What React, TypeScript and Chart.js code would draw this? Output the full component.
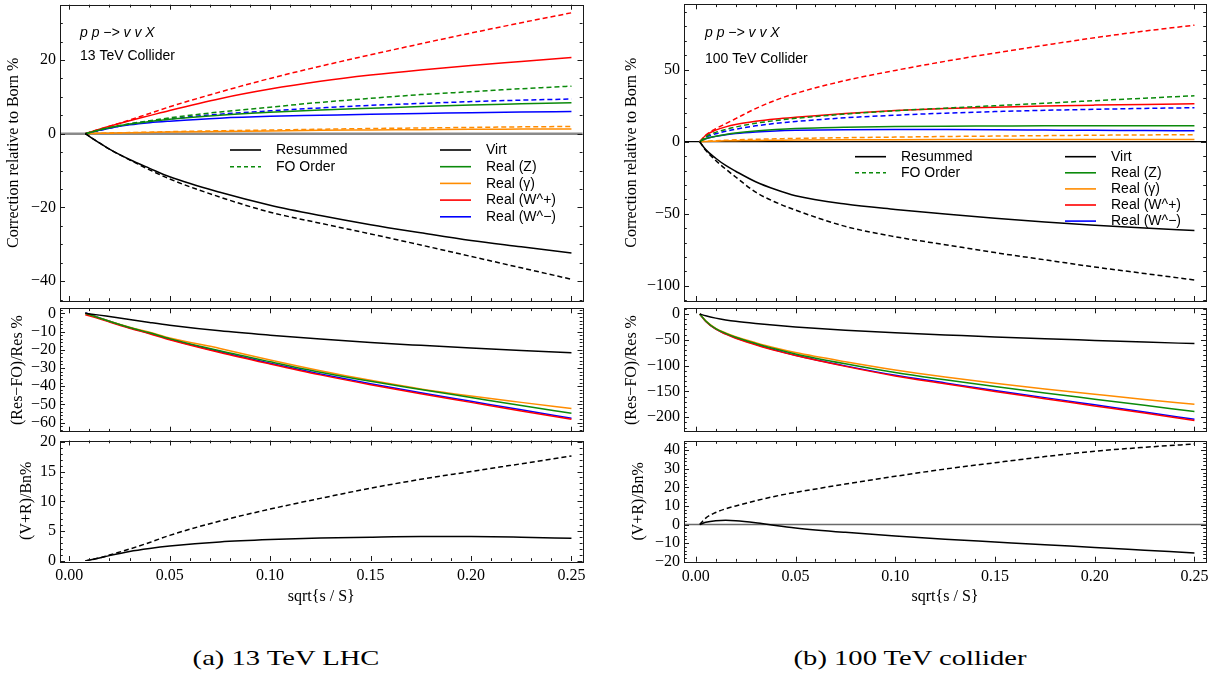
import React, { useEffect, useRef } from "react";
import { Chart, registerables } from "chart.js";

Chart.register(...registerables);

// ---------------- data: 13 TeV LHC (left column) ----------------
const X_13 = [0.008, 0.015, 0.02, 0.03, 0.04, 0.05, 0.075, 0.1, 0.125, 0.15, 0.175, 0.2, 0.225, 0.25];

const VIRT_RES_13 = [0, -2.5, -4.2, -7.0, -9.4, -11.7, -15.9, -19.4, -22.2, -24.7, -26.9, -29.0, -30.7, -32.4];
const VIRT_FO_13 = [0, -2.5, -4.2, -7.1, -9.8, -12.3, -17.2, -21.3, -24.3, -27.2, -30.2, -33.3, -36.4, -39.5];
const Z_RES_13 = [0, 1.0, 1.6, 2.6, 3.3, 3.9, 5.0, 5.8, 6.4, 6.9, 7.4, 7.8, 8.1, 8.4];
const Z_FO_13 = [0, 1.0, 1.6, 2.7, 3.5, 4.3, 5.9, 7.2, 8.5, 9.6, 10.6, 11.4, 12.2, 12.9];
const A_RES_13 = [0, 0.1, 0.15, 0.25, 0.35, 0.45, 0.6, 0.75, 0.9, 1.0, 1.1, 1.2, 1.25, 1.3];
const A_FO_13 = [0, 0.1, 0.2, 0.3, 0.42, 0.55, 0.8, 1.0, 1.2, 1.4, 1.55, 1.7, 1.85, 1.95];
const WP_RES_13 = [0, 1.2, 2.0, 3.5, 4.9, 6.3, 9.5, 12.1, 14.2, 15.9, 17.3, 18.5, 19.6, 20.7];
const WP_FO_13 = [0, 1.2, 2.0, 3.7, 5.5, 7.3, 11.3, 15.0, 18.3, 21.4, 24.4, 27.3, 30.1, 32.8];
const WM_RES_13 = [0, 0.9, 1.5, 2.4, 3.0, 3.4, 4.2, 4.7, 5.0, 5.3, 5.5, 5.7, 5.9, 6.0];
const WM_FO_13 = [0, 0.9, 1.5, 2.6, 3.4, 4.0, 5.3, 6.2, 7.0, 7.7, 8.2, 8.7, 9.1, 9.4];

const DV_13 = [0, -1.0, -1.8, -3.4, -5.0, -6.5, -9.6, -12.0, -14.1, -16.0, -17.6, -19.1, -20.4, -21.6];
const DZ_13 = [0, -2.6, -4.4, -7.8, -10.7, -13.9, -20.6, -26.6, -32.3, -37.3, -41.8, -46.2, -50.6, -54.9];
const DA_13 = [0, -2.5, -4.3, -7.6, -10.4, -13.5, -19.3, -25.6, -31.5, -36.8, -41.5, -45.4, -48.9, -52.3];
const DWP_13 = [-0.8, -3.0, -4.8, -8.2, -11.2, -14.5, -21.5, -27.8, -33.8, -39.2, -44.2, -48.9, -53.6, -58.2];
const DWM_13 = [0.3, -2.6, -4.4, -7.9, -10.9, -14.2, -21.1, -27.4, -33.3, -38.7, -43.6, -48.3, -53.0, -57.6];

const VR_FO_13 = [0, 0.5, 1.0, 2.0, 3.1, 4.3, 6.7, 8.7, 10.5, 12.2, 13.7, 15.0, 16.3, 17.6];
const VR_RES_13 = [0, 0.5, 0.9, 1.6, 2.1, 2.5, 3.2, 3.6, 3.85, 4.0, 4.1, 4.1, 4.0, 3.8];

// ---------------- data: 100 TeV collider (right column) ----------------
const X_100 = [0.002, 0.005, 0.01, 0.015, 0.02, 0.03, 0.04, 0.05, 0.075, 0.1, 0.125, 0.15, 0.175, 0.2, 0.225, 0.25];

const VIRT_RES_100 = [0, -5.5, -11.5, -16.5, -20.5, -27.8, -33.2, -37.5, -43.3, -47.0, -50.2, -53.2, -55.8, -58.0, -60.0, -61.7];
const VIRT_FO_100 = [0, -6, -13, -19, -24.5, -35, -42, -47.5, -58.8, -66, -71.5, -77, -82, -87, -91.5, -96];
const Z_RES_100 = [0, 2.2, 3.8, 5.0, 6.0, 7.4, 8.4, 9.1, 10.0, 10.5, 10.8, 10.9, 11.0, 11.0, 11.1, 11.1];
const Z_FO_100 = [0, 3.5, 6.5, 8.5, 10.2, 12.8, 14.7, 16.2, 19.2, 21.5, 23.3, 25.0, 26.7, 28.5, 30.2, 31.9];
const A_RES_100 = [0, 0.2, 0.4, 0.6, 0.7, 0.9, 1.0, 1.1, 1.3, 1.4, 1.45, 1.5, 1.55, 1.6, 1.6, 1.6];
const A_FO_100 = [0, 0.3, 0.7, 1.0, 1.3, 1.7, 2.0, 2.3, 2.8, 3.2, 3.6, 3.9, 4.2, 4.5, 4.7, 4.9];
const WP_RES_100 = [0, 4.5, 8.0, 10.3, 12.0, 14.2, 15.8, 17.0, 19.6, 21.6, 23.0, 24.0, 24.8, 25.4, 25.9, 26.3];
const WP_FO_100 = [0, 4.5, 9.0, 12.5, 16.0, 23.0, 28.8, 33.5, 42.5, 49.5, 55.8, 61.6, 67.0, 72.2, 76.8, 80.9];
const WM_RES_100 = [0, 2.1, 3.7, 4.8, 5.7, 6.8, 7.5, 7.9, 8.3, 8.4, 8.4, 8.3, 8.1, 7.9, 7.8, 7.6];
const WM_FO_100 = [0, 3.0, 5.5, 7.3, 8.7, 11.0, 12.7, 14.0, 16.6, 18.4, 19.8, 20.9, 21.8, 22.5, 23.1, 23.6];

const DV_100 = [0, -3.5, -8, -11.5, -14.3, -18.5, -22, -25, -31.5, -36.5, -40.5, -44.5, -48, -51.2, -54.4, -57.4];
const DZ_100 = [0, -13.5, -28.5, -37.5, -45, -57, -68, -77.4, -96.5, -113.5, -127.5, -140.6, -153, -165, -177, -189];
const DA_100 = [0, -13, -27.7, -36.5, -43.9, -55.5, -66, -74.8, -92.5, -108.4, -122, -134.2, -145.3, -155.5, -165.5, -174.8];
const DWP_100 = [0, -14.5, -29.5, -39, -47, -59.5, -71, -80.6, -101.5, -120, -135, -150, -164, -178, -192, -206.5];
const DWM_100 = [0, -14, -29, -38.5, -46, -58.5, -70, -80, -100.5, -118.7, -133.5, -148.4, -162, -176, -190, -203.9];

const VR_FO_100 = [0, 3.5, 6.5, 8.5, 10.0, 12.8, 15.3, 17.3, 21.8, 26.0, 29.9, 33.3, 36.6, 39.5, 41.6, 43.4];
const VR_RES_100 = [0, 1.2, 2.1, 2.3, 2.1, 1.0, -0.5, -1.8, -4.2, -6.2, -7.9, -9.4, -10.9, -12.3, -13.8, -15.3];

// ---------------- ticks ----------------
const X_TICKS = [0, 0.05, 0.1, 0.15, 0.2, 0.25];
const X_MINOR = 0.01;
const Y_TICKS_TOP_13 = [-40, -20, 0, 20];
const Y_TICKS_MID_13 = [-60, -50, -40, -30, -20, -10, 0];
const Y_TICKS_BOT_13 = [0, 5, 10, 15, 20];
const Y_TICKS_TOP_100 = [-100, -50, 0, 50];
const Y_TICKS_MID_100 = [-200, -150, -100, -50, 0];
const Y_TICKS_BOT_100 = [-20, -10, 0, 10, 20, 30, 40];

// ---------------- styles ----------------
const SERIF = '"Liberation Serif", "Times New Roman", serif';
const SANS = '"Liberation Sans", Arial, sans-serif';
const BLACK = "#000000";
const GREEN = "#0b8a0b";
const ORANGE = "#ff8c00";
const RED = "#ff0000";
const BLUE = "#0000ff";
const LW = 1.5;
const DASH = [5, 3];

const LEGEND_ITEMS = [
  { text: "Resummed", color: BLACK, dash: false, col: 0, row: 0 },
  { text: "FO Order", color: GREEN, dash: true, col: 0, row: 1 },
  { text: "Virt", color: BLACK, dash: false, col: 1, row: 0 },
  { text: "Real (Z)", color: GREEN, dash: false, col: 1, row: 1 },
  { text: "Real (\u03b3)", color: ORANGE, dash: false, col: 1, row: 2 },
  { text: "Real (W^+)", color: RED, dash: false, col: 1, row: 3 },
  { text: "Real (W^\u2212)", color: BLUE, dash: false, col: 1, row: 4 },
];

function line(xs: number[], ys: number[], color: string, dashed: boolean, label: string) {
  return {
    label,
    data: xs.map((x, i) => ({ x, y: ys[i] })),
    borderColor: color,
    backgroundColor: color,
    borderWidth: LW,
    borderDash: dashed ? DASH : [],
    pointRadius: 0,
    cubicInterpolationMode: "monotone",
    fill: false,
  };
}

const fmtY = (v: number) => (v < 0 ? "\u2212" + Math.abs(v) : String(v));

const framePlugin = {
  id: "frame",
  beforeDatasetsDraw(chart: any, _a: any, o: any) {
    if (!o || !o.zero) return;
    const { ctx, chartArea } = chart;
    const y = chart.scales.y.getPixelForValue(0);
    ctx.save();
    ctx.strokeStyle = o.zero.color;
    ctx.lineWidth = o.zero.width;
    ctx.beginPath();
    ctx.moveTo(chartArea.left, y);
    ctx.lineTo(chartArea.right, y);
    ctx.stroke();
    ctx.restore();
  },
  afterDatasetsDraw(chart: any, _a: any, o: any) {
    const { ctx, chartArea } = chart;
    const { left, right, top, bottom } = chartArea;
    const xs = chart.scales.x;
    const ys = chart.scales.y;
    ctx.save();
    ctx.strokeStyle = "#1a1a1a";
    ctx.lineWidth = 1;
    const seg = (x1: number, y1: number, x2: number, y2: number) => {
      ctx.beginPath();
      ctx.moveTo(x1, y1);
      ctx.lineTo(x2, y2);
      ctx.stroke();
    };
    const isMajor = (v: number, arr: number[]) => arr.some((t) => Math.abs(t - v) < 1e-9);
    const xStart = Math.ceil(xs.min / X_MINOR - 1e-9);
    for (let k = xStart; k * X_MINOR <= xs.max + 1e-12; k++) {
      const v = +(k * X_MINOR).toFixed(6);
      const len = isMajor(v, X_TICKS) ? 5 : 2.8;
      const px = Math.round(xs.getPixelForValue(v)) + 0.5;
      seg(px, bottom, px, bottom - len);
      seg(px, top, px, top + len);
    }
    const step = o.yMinor;
    const yStart = Math.ceil(ys.min / step - 1e-9);
    for (let k = yStart; k * step <= ys.max + 1e-9; k++) {
      const v = +(k * step).toFixed(6);
      const len = isMajor(v, o.yTicks) ? 5 : 2.8;
      const py = Math.round(ys.getPixelForValue(v)) + 0.5;
      seg(left, py, left + len, py);
      seg(right, py, right - len, py);
    }
    ctx.strokeRect(Math.round(left) + 0.5, Math.round(top) + 0.5, Math.round(right - left), Math.round(bottom - top));

    if (o.legend) {
      const L = o.legend;
      ctx.font = `14px ${SANS}`;
      ctx.textBaseline = "middle";
      ctx.fillStyle = "#000";
      LEGEND_ITEMS.forEach((it) => {
        const x0 = left + (it.col === 0 ? L.x0 : L.x1);
        const y = top + L.y0 + it.row * L.dy;
        ctx.save();
        ctx.strokeStyle = it.color;
        ctx.lineWidth = 1.6;
        ctx.setLineDash(it.dash ? [4, 3] : []);
        seg(x0, y, x0 + 31, y);
        ctx.restore();
        ctx.fillText(it.text, x0 + 46, y + 0.5);
      });
    }
    if (o.notes) {
      ctx.fillStyle = "#000";
      ctx.textBaseline = "middle";
      o.notes.forEach((n: any) => {
        ctx.font = `${n.italic ? "italic " : ""}14px ${SANS}`;
        ctx.fillText(n.text, left + n.x, top + n.y);
      });
    }
    ctx.restore();
  },
};

type Spec = {
  left: number; top: number; width: number; height: number;
  pad: { left: number; right: number; top: number; bottom: number };
  yWidth: number; xMin: number; xMax: number; yMin: number; yMax: number;
  yTicks: number[]; yMinor: number; yTitle: string; yTitlePad: number;
  showX: boolean; datasets: any[]; zero?: any; legend?: any; notes?: any[];
};

const L_COL = { left: 0, width: 593, yWidth: 60, xMin: -0.0046, xMax: 0.2555 };
const R_COL = { left: 615, width: 601, yWidth: 69, xMin: -0.0059, xMax: 0.2558 };

const SPECS: Spec[] = [
  {
    ...L_COL, top: 0, height: 305, pad: { left: 0, right: 10.5, top: 4.7, bottom: 4 },
    yMin: -45.4, yMax: 35.0, yTicks: Y_TICKS_TOP_13, yMinor: 5,
    yTitle: "Correction relative to Born %", yTitlePad: 3.9, showX: false,
    zero: { color: "#8a8a8a", width: 2.5 },
    legend: { x0: 170, x1: 380, y0: 145.3, dy: 16.7 },
    notes: [
      { text: "p p \u2212> v v X", x: 20, y: 28.3, italic: true },
      { text: "13 TeV Collider", x: 20, y: 51.3 },
    ],
    datasets: [
      line(X_13, VIRT_RES_13, BLACK, false, "Virt Res"),
      line(X_13, VIRT_FO_13, BLACK, true, "Virt FO"),
      line(X_13, Z_RES_13, GREEN, false, "Real (Z) Res"),
      line(X_13, Z_FO_13, GREEN, true, "Real (Z) FO"),
      line(X_13, A_RES_13, ORANGE, false, "Real (\u03b3) Res"),
      line(X_13, A_FO_13, ORANGE, true, "Real (\u03b3) FO"),
      line(X_13, WP_RES_13, RED, false, "Real (W^+) Res"),
      line(X_13, WP_FO_13, RED, true, "Real (W^+) FO"),
      line(X_13, WM_RES_13, BLUE, false, "Real (W^-) Res"),
      line(X_13, WM_FO_13, BLUE, true, "Real (W^-) FO"),
    ],
  },
  {
    ...L_COL, top: 303, height: 133, pad: { left: 0, right: 10.5, top: 5.3, bottom: 4.3 },
    yMin: -65, yMax: 2.75, yTicks: Y_TICKS_MID_13, yMinor: 2,
    yTitle: "(Res\u2212FO)/Res %", yTitlePad: 7.9, showX: false,
    datasets: [
      line(X_13, DV_13, BLACK, false, "Virt"),
      line(X_13, DZ_13, GREEN, false, "Real (Z)"),
      line(X_13, DA_13, ORANGE, false, "Real (\u03b3)"),
      line(X_13, DWP_13, RED, false, "Real (W^+)"),
      line(X_13, DWM_13, BLUE, false, "Real (W^-)"),
    ],
  },
  {
    ...L_COL, top: 432, height: 179, pad: { left: 0, right: 10.5, top: 8.5, bottom: 5 },
    yMin: 0, yMax: 20.2, yTicks: Y_TICKS_BOT_13, yMinor: 1,
    yTitle: "(V+R)/Bn%", yTitlePad: 17.4, showX: true,
    datasets: [
      line(X_13, VR_RES_13, BLACK, false, "Resummed"),
      line(X_13, VR_FO_13, BLACK, true, "FO Order"),
    ],
  },
  {
    ...R_COL, top: 0, height: 305, pad: { left: 0, right: 10, top: 4.3, bottom: 4 },
    yMin: -110.6, yMax: 95.4, yTicks: Y_TICKS_TOP_100, yMinor: 10,
    yTitle: "Correction relative to Born %", yTitlePad: 7, showX: false,
    zero: { color: "#000", width: 1.2 },
    legend: { x0: 171, x1: 381, y0: 152.4, dy: 16.1 },
    notes: [
      { text: "p p \u2212> v v X", x: 21, y: 29.2, italic: true },
      { text: "100 TeV Collider", x: 21, y: 55.2 },
    ],
    datasets: [
      line(X_100, VIRT_RES_100, BLACK, false, "Virt Res"),
      line(X_100, VIRT_FO_100, BLACK, true, "Virt FO"),
      line(X_100, Z_RES_100, GREEN, false, "Real (Z) Res"),
      line(X_100, Z_FO_100, GREEN, true, "Real (Z) FO"),
      line(X_100, A_RES_100, ORANGE, false, "Real (\u03b3) Res"),
      line(X_100, A_FO_100, ORANGE, true, "Real (\u03b3) FO"),
      line(X_100, WP_RES_100, RED, false, "Real (W^+) Res"),
      line(X_100, WP_FO_100, RED, true, "Real (W^+) FO"),
      line(X_100, WM_RES_100, BLUE, false, "Real (W^-) Res"),
      line(X_100, WM_FO_100, BLUE, true, "Real (W^-) FO"),
    ],
  },
  {
    ...R_COL, top: 303, height: 133, pad: { left: 0, right: 10, top: 5.3, bottom: 4.3 },
    yMin: -228, yMax: 11, yTicks: Y_TICKS_MID_100, yMinor: 10,
    yTitle: "(Res\u2212FO)/Res %", yTitlePad: 7, showX: false,
    datasets: [
      line(X_100, DV_100, BLACK, false, "Virt"),
      line(X_100, DZ_100, GREEN, false, "Real (Z)"),
      line(X_100, DA_100, ORANGE, false, "Real (\u03b3)"),
      line(X_100, DWP_100, RED, false, "Real (W^+)"),
      line(X_100, DWM_100, BLUE, false, "Real (W^-)"),
    ],
  },
  {
    ...R_COL, top: 432, height: 180, pad: { left: 0, right: 10, top: 9, bottom: 5.3 },
    yMin: -20, yMax: 45, yTicks: Y_TICKS_BOT_100, yMinor: 2,
    yTitle: "(V+R)/Bn%", yTitlePad: 14.4, showX: true,
    zero: { color: "#6a6a6a", width: 1.5 },
    datasets: [
      line(X_100, VR_RES_100, BLACK, false, "Resummed"),
      line(X_100, VR_FO_100, BLACK, true, "FO Order"),
    ],
  },
];

function Panel({ spec }: { spec: Spec }) {
  const ref = useRef<HTMLCanvasElement | null>(null);
  useEffect(() => {
    if (!ref.current) return;
    const s = spec;
    const chart = new Chart(ref.current, {
      type: "line",
      data: { datasets: s.datasets as any },
      plugins: [framePlugin as any],
      options: {
        responsive: false,
        animation: false,
        events: [],
        layout: { padding: s.pad, autoPadding: false } as any,
        plugins: {
          legend: { display: false },
          tooltip: { enabled: false },
          frame: { yTicks: s.yTicks, yMinor: s.yMinor, zero: s.zero, legend: s.legend, notes: s.notes },
        } as any,
        scales: {
          x: {
            type: "linear",
            min: s.xMin,
            max: s.xMax,
            display: s.showX,
            grid: { display: false, drawTicks: false },
            border: { display: false },
            afterBuildTicks: (sc: any) => {
              sc.ticks = X_TICKS.map((v) => ({ value: v }));
            },
            afterFit: (sc: any) => {
              sc.height = s.showX ? 45 : 0;
              sc.paddingLeft = 0;
              sc.paddingRight = 0;
              sc.paddingTop = 0;
              sc.paddingBottom = 0;
            },
            ticks: {
              font: { family: SERIF, size: 16 },
              color: "#000",
              padding: 5,
              maxRotation: 0,
              autoSkip: false,
              callback: (v: any) => Number(v).toFixed(2),
            },
            title: {
              display: true,
              text: "sqrt{s / S}",
              font: { family: SERIF, size: 16 },
              color: "#000",
              padding: { top: 0, bottom: 0 },
            },
          },
          y: {
            type: "linear",
            position: "left",
            min: s.yMin,
            max: s.yMax,
            grid: { display: false, drawTicks: false },
            border: { display: false },
            afterBuildTicks: (sc: any) => {
              sc.ticks = s.yTicks.map((v) => ({ value: v }));
            },
            afterFit: (sc: any) => {
              sc.width = s.yWidth;
              sc.paddingLeft = 0;
              sc.paddingRight = 0;
              sc.paddingTop = 0;
              sc.paddingBottom = 0;
            },
            ticks: {
              font: { family: SERIF, size: 16 },
              color: "#000",
              padding: 4,
              autoSkip: false,
              callback: (v: any) => fmtY(Number(v)),
            },
            title: {
              display: true,
              text: s.yTitle,
              font: { family: SERIF, size: 16 },
              color: "#000",
              padding: { top: s.yTitlePad, bottom: 0 },
            },
          },
        } as any,
      },
    });
    return () => chart.destroy();
  }, [spec]);
  return (
    <canvas
      ref={ref}
      width={spec.width}
      height={spec.height}
      style={{ position: "absolute", left: spec.left, top: spec.top, width: spec.width, height: spec.height }}
    />
  );
}

const CAPTIONS = [
  { text: "(a) 13 TeV LHC", cx: 286 },
  { text: "(b) 100 TeV collider", cx: 910 },
];

export default function App() {
  return (
    <div style={{ position: "fixed", left: 0, top: 0, width: 1219, height: 674, background: "#fff", overflow: "hidden" }}>
      {SPECS.map((s, i) => (
        <Panel key={i} spec={s} />
      ))}
      {CAPTIONS.map((c, i) => (
        <div
          key={i}
          style={{
            position: "absolute",
            left: c.cx - 200,
            width: 400,
            top: 645,
            lineHeight: "26px",
            textAlign: "center",
            fontFamily: SERIF,
            fontSize: 22,
            color: "#000",
            transform: "scaleX(1.3)",
            transformOrigin: "50% 50%",
          }}
        >
          {c.text}
        </div>
      ))}
    </div>
  );
}
